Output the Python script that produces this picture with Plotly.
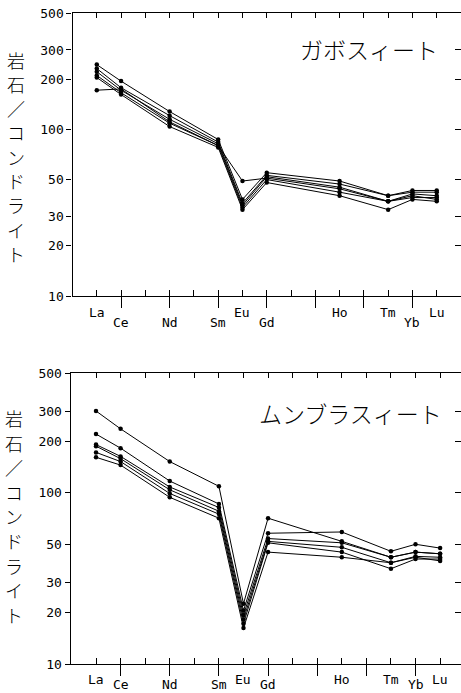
import math
import plotly.graph_objects as go

W, H = 461, 693

# ---------------- data ----------------
ree_order = ["La", "Ce", "Pr", "Nd", "Pm", "Sm", "Eu", "Gd", "Tb", "Dy", "Ho", "Er", "Tm", "Yb", "Lu"]
elements = ["La", "Ce", "Nd", "Sm", "Eu", "Gd", "Ho", "Tm", "Yb", "Lu"]
y_tick_vals = [10, 20, 30, 50, 100, 200, 300, 500]
y_tick_labels = ["10", "20", "30", "50", "100", "200", "300", "500"]

top_title = "ガボスィート"
bottom_title = "ムンブラスィート"
y_title = "岩石／コンドライト"

gabbro_1 = [245, 195, 128, 87, 38, 55, 49, 40, 43, 43]
gabbro_2 = [232, 178, 121, 84, 36, 53, 47, 40, 42, 42]
gabbro_3 = [222, 172, 115, 82, 35, 52, 45, 37, 41, 40]
gabbro_4 = [211, 166, 109, 80, 34, 50, 42, 37, 39, 39]
gabbro_5 = [205, 162, 104, 78, 33, 48, 40, 33, 38, 37]
gabbro_6 = [172, 175, 111, 80, 49, 51, 44, 37, 40, 38]

mun_1 = [300, 236, 152, 109, 22.5, 71, 52, 42, 45, 44]
mun_2 = [220, 182, 117, 86, 20.5, 58, 59, 45.5, 50, 47.5]
mun_3 = [191, 163, 108, 82, 19.3, 54, 51, 42, 45, 44]
mun_4 = [187, 158, 104, 78, 18.2, 52, 48, 39, 42.5, 42]
mun_5 = [172, 152, 99, 75, 17.2, 51, 45, 36, 41, 41]
mun_6 = [161, 145, 94, 71, 16.2, 45, 42, 39, 42, 40]

top_series = [gabbro_1, gabbro_2, gabbro_3, gabbro_4, gabbro_5, gabbro_6]
bottom_series = [mun_1, mun_2, mun_3, mun_4, mun_5, mun_6]

# ---------------- helpers ----------------
xpos = [ree_order.index(e) + 1 for e in elements]
all_pos = list(range(1, len(ree_order) + 1))
even_pos = [p for p in all_pos if p % 2 == 0]   # Ce, Nd, Sm, Gd, Dy, Er, Yb


def py(p):
    return 1 - p / H


FONT_MONO = "DejaVu Sans Mono"
FONT_CJK = "Noto Sans CJK JP"

fig = go.Figure()

panels = [
    dict(series=top_series, xa="x", ya="y", xtop="x3", xeven="x5", yr="y3",
         dom_x=[72.5 / W, 1.0], dom_y=[py(296), py(13)], xr=[0.0, 16.0],
         title=top_title, title_xy=(369, 49), ytitle_x=16, ytitle_y0=59.5, ytitle_pitch=24.3,
         lab_odd=312, lab_even=322),
    dict(series=bottom_series, xa="x2", ya="y2", xtop="x4", xeven="x6", yr="y4",
         dom_x=[70.7 / W, 1.0], dom_y=[py(664), py(373)], xr=[-0.03, 15.85],
         title=bottom_title, title_xy=(350, 413), ytitle_x=14, ytitle_y0=418, ytitle_pitch=24.6,
         lab_odd=679, lab_even=684),
]

layout_axes = {}
annotations = []
yrange = [1.0, math.log10(500)]

for pnl in panels:
    for s in pnl["series"]:
        fig.add_trace(go.Scatter(
            x=xpos, y=s, mode="lines+markers",
            line=dict(color="black", width=1),
            marker=dict(color="black", size=4.5),
            xaxis=pnl["xa"], yaxis=pnl["ya"], showlegend=False, hoverinfo="skip"))
    # empty traces so that the overlay axes are drawn
    fig.add_trace(go.Scatter(x=[], y=[], xaxis=pnl["xtop"], yaxis=pnl["ya"], showlegend=False))
    fig.add_trace(go.Scatter(x=[], y=[], xaxis=pnl["xeven"], yaxis=pnl["ya"], showlegend=False))
    fig.add_trace(go.Scatter(x=[], y=[], xaxis=pnl["xa"], yaxis=pnl["yr"], showlegend=False))

    xa_name = "xaxis" + pnl["xa"][1:]
    ya_name = "yaxis" + pnl["ya"][1:]
    xtop_name = "xaxis" + pnl["xtop"][1:]
    xeven_name = "xaxis" + pnl["xeven"][1:]
    yr_name = "yaxis" + pnl["yr"][1:]

    common_x = dict(range=pnl["xr"], domain=pnl["dom_x"], showgrid=False, zeroline=False,
                    showticklabels=False, tickmode="array", tickcolor="black", tickwidth=1,
                    automargin=False)
    layout_axes[xa_name] = dict(common_x, anchor=pnl["ya"], side="bottom", showline=True,
                                linecolor="black", linewidth=1.3,
                                tickvals=all_pos, ticks="inside", ticklen=6)
    layout_axes[xeven_name] = dict(common_x, anchor=pnl["ya"], side="bottom", overlaying=pnl["xa"],
                                   showline=False, tickvals=even_pos, ticks="outside", ticklen=11)
    layout_axes[xtop_name] = dict(common_x, anchor=pnl["ya"], side="top", overlaying=pnl["xa"],
                                  showline=True, linecolor="black", linewidth=1.3,
                                  tickvals=all_pos, ticks="inside", ticklen=5)

    layout_axes[ya_name] = dict(type="log", range=yrange, domain=pnl["dom_y"], anchor=pnl["xa"],
                                showgrid=False, zeroline=False, showline=True, linecolor="black",
                                linewidth=1.3, tickmode="array", tickvals=y_tick_vals,
                                ticktext=y_tick_labels, ticks="outside", ticklen=5,
                                tickcolor="black", tickwidth=1, automargin=False,
                                tickfont=dict(family=FONT_MONO, size=13, color="black"))
    layout_axes[yr_name] = dict(type="log", range=yrange, domain=pnl["dom_y"], anchor=pnl["xa"],
                                overlaying=pnl["ya"], side="right", showgrid=False, zeroline=False,
                                showline=False, tickmode="array", tickvals=y_tick_vals[1:-1],
                                ticks="inside", ticklen=6, tickcolor="black", tickwidth=1,
                                showticklabels=False, automargin=False)

    # element labels
    for e, p in zip(elements, xpos):
        ypix = pnl["lab_even"] if p % 2 == 0 else pnl["lab_odd"]
        annotations.append(dict(x=p, xref=pnl["xa"], y=py(ypix), yref="paper", text=e,
                                showarrow=False, xanchor="center", yanchor="middle",
                                font=dict(family=FONT_MONO, size=13, color="black")))
    # panel title
    tx, ty = pnl["title_xy"]
    annotations.append(dict(x=tx / W, y=py(ty), xref="paper", yref="paper", text=pnl["title"],
                            showarrow=False, xanchor="center", yanchor="middle",
                            font=dict(family=FONT_CJK, size=23, color="black", weight=300)))
    # vertical y title, one character per line
    for i, ch in enumerate(y_title):
        cy = pnl["ytitle_y0"] + i * pnl["ytitle_pitch"]
        annotations.append(dict(x=pnl["ytitle_x"] / W, y=py(cy), xref="paper", yref="paper",
                                text=ch, showarrow=False, xanchor="center", yanchor="middle",
                                font=dict(family=FONT_CJK, size=18, color="black", weight=300)))

fig.update_layout(
    template="none",
    width=W, height=H, margin=dict(l=0, r=0, t=0, b=0, autoexpand=False),
    paper_bgcolor="white", plot_bgcolor="white", showlegend=False,
    annotations=annotations, **layout_axes)

fig.write_html("out.html")
